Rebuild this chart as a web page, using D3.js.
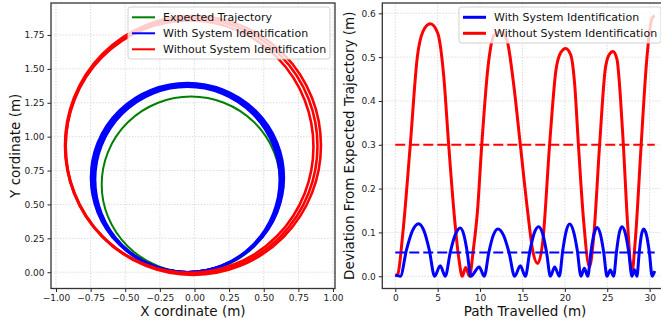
<!DOCTYPE html>
<html><head><meta charset="utf-8">
<script src="https://cdn.jsdelivr.net/npm/d3@7"></script>
<style>body{margin:0;background:#fff}svg{display:block}text{font-family:"DejaVu Sans",sans-serif}</style>
</head><body><svg id="c" width="661" height="324"></svg>
<script>
// ---------- data ----------
const xTicksL = [-1.00,-0.75,-0.50,-0.25,0.00,0.25,0.50,0.75,1.00];
const yTicksL = [0.00,0.25,0.50,0.75,1.00,1.25,1.50,1.75];
const xTicksR = [0,5,10,15,20,25,30];
const yTicksR = [0.0,0.1,0.2,0.3,0.4,0.5,0.6];
const seriesNames = ["Expected Trajectory","With System Identification","Without System Identification"];
const seriesColors = ["#008000","#0000ff","#ff0000"];
// trajectory loops (centre x, centre y, radius x, radius y) in metres
const expectedCx = [-0.025], expectedCy = [0.648], expectedRx = [0.645], expectedRy = [0.648];
const withCx = [-0.051,-0.050,-0.049,-0.050,-0.051];
const withCy = [0.684,0.688,0.691,0.694,0.698];
const withRx = [0.666,0.674,0.682,0.690,0.697];
const withRy = [0.684,0.688,0.691,0.694,0.698];
const withoutCx = [-0.036,-0.021,-0.011];
const withoutCy = [0.926,0.931,0.935];
const withoutRx = [0.895,0.909,0.924];
const withoutRy = [0.931,0.943,0.955];
// deviation vs path travelled
const blueX = [0,0.6,1.32,2.03,2.75,3.38,4.01,4.64,5.3,5.9,6.49,7.08,7.67,8.08,8.49,8.9,9.9,10.5,11.03,11.57,12.1,12.76,13.42,14.08,14.75,15.34,15.86,16.38,16.9,17.37,17.83,18.3,18.8,19.35,19.76,20.16,20.57,21.01,21.46,21.9,22.3,22.7,23.07,23.43,23.8,24.19,24.58,24.97,25.36,25.76,26.09,26.41,26.74,27.13,27.53,27.92,28.2,28.5,28.77,29.03,29.3,29.63,29.97,30.3,30.6];
const blueY = [0.003,0.0,0.06,0.104,0.120,0.104,0.06,0.0,0.024,0.0,0.055,0.095,0.110,0.095,0.055,0.0,0.021,0.0,0.054,0.094,0.108,0.094,0.054,0.0,0.024,0.0,0.056,0.098,0.113,0.098,0.056,0.0,0.021,0.0,0.06,0.103,0.119,0.103,0.06,0.0,0.018,0.0,0.055,0.096,0.111,0.096,0.055,0.0,0.014,0.0,0.056,0.098,0.113,0.098,0.056,0.0,0.015,0.0,0.054,0.094,0.108,0.094,0.054,0.0,0.012];
const redX = [0,0.3,0.9,1.77,2.6,3.3,4.13,5.0,5.7,6.3,7.0,7.5,7.9,8.3,8.75,9.2,9.7,10.2,10.95,11.65,12.4,13.15,13.95,14.75,15.6,16.2,16.8,17.4,18.2,18.95,19.5,20.1,20.7,21.15,21.6,22.2,22.9,23.4,24.1,24.75,25.2,25.68,26.15,26.55,26.9,27.4,27.9,28.3,29.0,29.6,30.0,30.3,30.6];
const redY = [0.0,0.005,0.10,0.30,0.50,0.56,0.576,0.555,0.46,0.30,0.13,0.04,0.0,0.02,0.0,0.06,0.15,0.30,0.48,0.55,0.558,0.54,0.44,0.30,0.15,0.06,0.029,0.08,0.30,0.47,0.51,0.520,0.505,0.44,0.30,0.13,0.021,0.09,0.30,0.47,0.505,0.513,0.495,0.41,0.30,0.12,0.008,0.08,0.30,0.48,0.56,0.59,0.595];
const meanBlue = [0.054], meanRed = [0.30];

// ---------- chart ----------
const svg = d3.select("#c");
const FONT = "DejaVu Sans";
const L = {x0:51, x1:335, y0:3, y1:288.5};
const R = {x0:382.3, x1:667.7, y0:3, y1:288.5};
const xL = d3.scaleLinear().domain([-1.036,1.0145]).range([L.x0,L.x1]);
const yL = d3.scaleLinear().domain([-0.12,1.986]).range([L.y1,L.y0]);
const xR = d3.scaleLinear().domain([-1.53,32.13]).range([R.x0,R.x1]);
const yR = d3.scaleLinear().domain([-0.028,0.6236]).range([R.y1,R.y0]);

const defs = svg.append("defs");
[["clipL",L],["clipR",R]].forEach(([id,b])=>{
  defs.append("clipPath").attr("id",id).append("rect")
    .attr("x",b.x0).attr("y",b.y0).attr("width",b.x1-b.x0).attr("height",b.y1-b.y0);
});

function grid(g,b,xs,ys,xt,yt){
  g.selectAll(".gx").data(xt).join("line").attr("x1",d=>xs(d)).attr("x2",d=>xs(d))
    .attr("y1",b.y0).attr("y2",b.y1).attr("stroke","#d4d4d4").attr("stroke-width",0.8).attr("stroke-dasharray","1.5,1.5");
  g.selectAll(".gy").data(yt).join("line").attr("y1",d=>ys(d)).attr("y2",d=>ys(d))
    .attr("x1",b.x0).attr("x2",b.x1).attr("stroke","#d4d4d4").attr("stroke-width",0.8).attr("stroke-dasharray","1.5,1.5");
}
function axes(b,xs,ys,xt,yt,fx,fy){
  const ax = svg.append("g").attr("transform",`translate(0,${b.y1})`)
    .call(d3.axisBottom(xs).tickValues(xt).tickFormat(fx).tickSizeOuter(0).tickSize(3.5).tickPadding(3));
  const ay = svg.append("g").attr("transform",`translate(${b.x0},0)`)
    .call(d3.axisLeft(ys).tickValues(yt).tickFormat(fy).tickSizeOuter(0).tickSize(3.5).tickPadding(3));
  [ax,ay].forEach(a=>{
    a.select(".domain").remove();
    a.selectAll("line").attr("stroke","#222").attr("stroke-width",1);
    a.selectAll("text").attr("font-family",FONT).attr("font-size",9).attr("fill","#222");
  });
  svg.append("rect").attr("x",b.x0).attr("y",b.y0).attr("width",b.x1-b.x0).attr("height",b.y1-b.y0)
    .attr("fill","none").attr("stroke","#333").attr("stroke-width",1.3);
}
function legend(x,y,w,rows,lw){
  const g = svg.append("g");
  g.append("rect").attr("x",x).attr("y",y).attr("width",w).attr("height",rows.length*16+4)
    .attr("rx",2.5).attr("fill","#fff").attr("fill-opacity",0.8).attr("stroke","#cccccc").attr("stroke-width",0.9);
  rows.forEach((r,i)=>{
    const cy = y+10.3+i*16;
    g.append("line").attr("x1",x+4).attr("x2",x+27).attr("y1",cy).attr("y2",cy)
      .attr("stroke",r.color).attr("stroke-width",lw);
    g.append("text").attr("x",x+35).attr("y",cy).attr("dy","0.36em")
      .attr("font-family",FONT).attr("font-size",11).attr("fill","#111").text(r.name);
  });
}

// ----- left panel -----
const gL = svg.append("g");
grid(gL,L,xL,yL,xTicksL,yTicksL);
const pL = svg.append("g").attr("clip-path","url(#clipL)");
function loops(cx,cy,rx,ry,color,w){
  pL.append("g").selectAll("ellipse").data(cx.map((c,i)=>({cx:c,cy:cy[i],rx:rx[i],ry:ry[i]})))
    .join("ellipse")
    .attr("cx",d=>xL(d.cx)).attr("cy",d=>yL(d.cy))
    .attr("rx",d=>xL(d.cx+d.rx)-xL(d.cx)).attr("ry",d=>yL(d.cy)-yL(d.cy+d.ry))
    .attr("fill","none").attr("stroke",color).attr("stroke-width",w);
}
loops(expectedCx,expectedCy,expectedRx,expectedRy,seriesColors[0],2);
loops(withCx,withCy,withRx,withRy,seriesColors[1],2.4);
loops(withoutCx,withoutCy,withoutRx,withoutRy,seriesColors[2],2.6);
legend(128,7,202,seriesNames.map((n,i)=>({name:n,color:seriesColors[i]})),2);
axes(L,xL,yL,xTicksL,yTicksL,d3.format(".2f"),d3.format(".2f"));
svg.append("text").attr("x",(L.x0+L.x1)/2).attr("y",316).attr("text-anchor","middle")
  .attr("font-family",FONT).attr("font-size",13.5).attr("fill","#111").text("X cordinate (m)");
svg.append("text").attr("transform",`translate(19.5,${(L.y0+L.y1)/2}) rotate(-90)`).attr("text-anchor","middle")
  .attr("font-family",FONT).attr("font-size",13.5).attr("fill","#111").text("Y cordinate (m)");

// ----- right panel -----
const gR = svg.append("g");
grid(gR,R,xR,yR,xTicksR,yTicksR);
const pR = svg.append("g").attr("clip-path","url(#clipR)");
const line = d3.line().x(d=>xR(d[0])).y(d=>yR(d[1])).curve(d3.curveMonotoneX);
pR.append("path").datum(redX.map((x,i)=>[x,redY[i]])).attr("d",line)
  .attr("fill","none").attr("stroke",seriesColors[2]).attr("stroke-width",3).attr("stroke-linejoin","round");
pR.append("path").datum(blueX.map((x,i)=>[x,blueY[i]])).attr("d",line)
  .attr("fill","none").attr("stroke",seriesColors[1]).attr("stroke-width",3).attr("stroke-linejoin","round");
[[meanBlue,seriesColors[1]],[meanRed,seriesColors[2]]].forEach(([m,c])=>{
  pR.append("line").attr("x1",xR(0)).attr("x2",xR(30.6)).attr("y1",yR(m[0])).attr("y2",yR(m[0]))
    .attr("stroke",c).attr("stroke-width",2).attr("stroke-dasharray","10,4");
});
legend(459,7,202,seriesNames.slice(1).map((n,i)=>({name:n,color:seriesColors[i+1]})),3);
axes(R,xR,yR,xTicksR,yTicksR,d3.format("d"),d3.format(".1f"));
svg.append("text").attr("x",(R.x0+R.x1)/2).attr("y",316).attr("text-anchor","middle")
  .attr("font-family",FONT).attr("font-size",13.5).attr("fill","#111").text("Path Travelled (m)");
svg.append("text").attr("transform",`translate(354,${(R.y0+R.y1)/2}) rotate(-90)`).attr("text-anchor","middle")
  .attr("font-family",FONT).attr("font-size",13.5).attr("fill","#111").text("Deviation From Expected Trajectory (m)");
</script></body></html>
